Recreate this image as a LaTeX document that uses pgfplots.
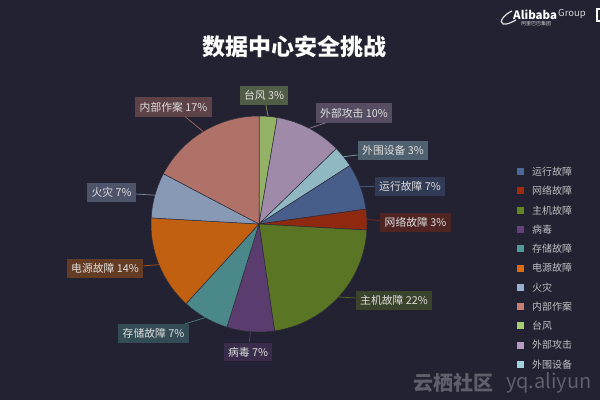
\documentclass[border=0pt]{standalone}
\usepackage{pgfplots}
\usepackage{pgfplotstable}
\pgfplotsset{compat=1.18}
\usepackage{fontspec}
\setmainfont{Noto Sans CJK SC}
\definecolor{bg}{RGB}{35,34,50}
% base colours, in table order (clockwise from top)
\definecolor{base0}{HTML}{A8CB6F}% 台风
\definecolor{base1}{HTML}{B69CBE}% 外部攻击
\definecolor{base2}{HTML}{A2D2DC}% 外围设备
\definecolor{base3}{HTML}{4C6998}% 运行故障
\definecolor{base4}{HTML}{A22B0B}% 网络故障
\definecolor{base5}{HTML}{648421}% 主机故障
\definecolor{base6}{HTML}{644279}% 病毒
\definecolor{base7}{HTML}{519A98}% 存储故障
\definecolor{base8}{HTML}{DC6B0A}% 电源故障
\definecolor{base9}{HTML}{9AAECD}% 火灾
\definecolor{base10}{HTML}{C98072}% 内部作案
\definecolor{labeltext}{RGB}{222,222,222}
\definecolor{legtext}{RGB}{190,190,195}

\pgfplotstableread[col sep=comma]{
name,value,lx,ly
台风,2.7,264,95.5
外部攻击,10.0,354,113
外围设备,3.2,393,150.5
运行故障,6.9,410,186.5
网络故障,3.1,415.5,222.5
主机故障,21.8,394,300.5
病毒,7.1,248,352
存储故障,7.0,153.5,333.5
电源故障,14.1,105,268.5
火灾,6.8,111.5,192.5
内部作案,17.3,173.5,107
}\piedata

\begin{document}
\begin{tikzpicture}
\begin{axis}[width=600pt,height=400pt,scale only axis,
  xmin=0,xmax=600,ymin=0,ymax=400,hide axis,clip=false]
\fill[bg] (axis cs:0,0) rectangle (axis cs:600,400);
\pgfplotstablegetrowsof{\piedata}
\pgfmathtruncatemacro\N{\pgfplotsretval-1}
\def\cum{90}
\pgfplotsforeachungrouped \i in {0,...,\N}{%
  \pgfplotstablegetelem{\i}{value}\of\piedata \let\v\pgfplotsretval
  \pgfplotstablegetelem{\i}{name}\of\piedata \let\nm\pgfplotsretval
  \pgfplotstablegetelem{\i}{lx}\of\piedata \let\lx\pgfplotsretval
  \pgfplotstablegetelem{\i}{ly}\of\piedata \let\lyp\pgfplotsretval
  \pgfmathsetmacro\ly{400-\lyp}
  \pgfmathsetmacro\a{\cum}
  \pgfmathsetmacro\b{\cum-3.6*\v}
  \pgfmathsetmacro\m{(\a+\b)/2}
  \pgfmathsetmacro\ex{259+108*cos(\m)}
  \pgfmathsetmacro\ey{176+108*sin(\m)}
  \pgfmathtruncatemacro\p{round(\v)}
  \pgfmathtruncatemacro\j{mod(\i+8,11)}
  \pgfmathsetmacro\legy{400-(171.7+19.27*\j)}
  \edef\temp{%
    \noexpand\fill[base\i!85!bg, draw={rgb,255:red,45;green,45;blue,58}, line width=0.5pt]
      (axis cs:259,176) -- ++(\a:108pt) arc[start angle=\a, end angle=\b, radius=108pt] -- cycle;
    \noexpand\node[fill=base\i!35!bg, text=labeltext, inner xsep=4.5pt, inner ysep=4.5pt,
      font=\noexpand\fontsize{10.8}{12}\noexpand\selectfont] (L\i) at (axis cs:\lx,\ly) {\nm\space\p\noexpand\%};
    \noexpand\draw[base\i!75!bg, line width=0.7pt] (axis cs:\ex,\ey) -- (L\i);
    \noexpand\fill[base\i] (axis cs:516.5,\legy-3.5) rectangle (axis cs:523.5,\legy+3.5);
    \noexpand\node[anchor=west, text=legtext, inner sep=0pt,
      font=\noexpand\fontsize{10}{12}\noexpand\selectfont] at (axis cs:532,\legy) {\nm};
  }%
  \temp
  \let\cum\b
}
% title
\node[text=white, font=\fontsize{23}{26}\selectfont\bfseries] at (axis cs:294,353) {数据中心安全挑战};
% watermarks
\node[anchor=west, text=white, inner sep=0pt, font=\fontsize{11.5}{12}\selectfont\bfseries] at (axis cs:513,385) {Alibaba};
\node[anchor=west, text=white!80!bg, inner sep=0pt, font=\fontsize{9.5}{12}\selectfont] at (axis cs:558,385.5) {Group};
\node[anchor=west, text=white!80!bg, inner sep=0pt, font=\fontsize{5}{6}\selectfont] at (axis cs:521,376.5) {阿里巴巴集团};
\draw[white!85!bg, line width=1.2pt] (axis cs:512,389) .. controls (axis cs:505,386) and (axis cs:498,378) .. (axis cs:503,376) .. controls (axis cs:507,375) and (axis cs:512,378) .. (axis cs:516,380);
\draw[white, line width=1.8pt] (axis cs:601,391) -- (axis cs:597,391) -- (axis cs:597,379) -- (axis cs:601,379);
\node[anchor=west, text={rgb,255:red,95;green,95;blue,108}, inner sep=0pt, font=\fontsize{20}{24}\selectfont\bfseries] at (axis cs:413,17.5) {云栖社区};
\node[anchor=west, text={rgb,255:red,95;green,95;blue,108}, inner sep=0pt, font=\fontsize{20}{24}\selectfont] at (axis cs:506,17.5) {yq.aliyun};
\end{axis}
\pgfresetboundingbox
\path (0,0) rectangle (600pt,400pt);
\end{tikzpicture}
\end{document}
